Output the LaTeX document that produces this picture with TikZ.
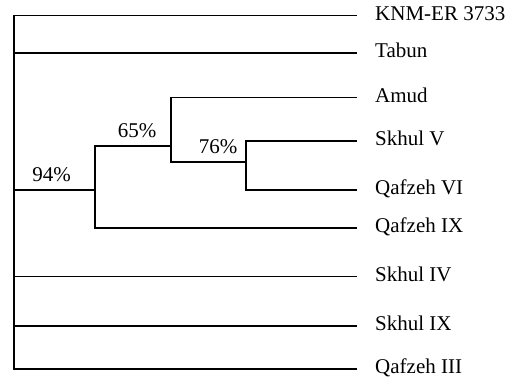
\documentclass[tikz,border=0pt]{standalone}
\usepackage{fontspec}
\setmainfont{Liberation Serif}
\usepackage{tikz}
\tikzset{taxon/.style={anchor=base west,inner sep=0pt,font=\fontsize{21}{25}\selectfont},
    support/.style={anchor=base,inner sep=0pt,font=\fontsize{21}{25}\selectfont},
    branch/.style={draw,line width=1.6pt}}

\begin{document}
\begin{tikzpicture}[x=1pt,y=-1pt]
    \useasboundingbox (0,0) rectangle (515,377);
    % tips and their labels
    \foreach \tip/\ty/\txt in {knm/15.7/KNM-ER 3733, tabun/53.3/Tabun,
        amud/97.7/Amud, skV/141/Skhul V, qVI/190/Qafzeh VI,
        qIX/228/Qafzeh IX, skIV/276.7/Skhul IV, skIX/326/Skhul IX,
        qIII/369/Qafzeh III}
    {
        \coordinate (\tip) at (357,\ty);
        \node[taxon] (\tip-lab) at (375,\ty+4.5) {\txt};
    }
    % inner nodes
    \coordinate (root) at (14,190);
    \coordinate (n94) at (95,190);
    \coordinate (n65) at (170.7,146);
    \coordinate (n76) at (245.7,162.3);
    % branches
    \path[branch] (root) |- (knm);
    \path[branch] (root) |- (tabun);
    \path[branch] (root) |- (skIV);
    \path[branch] (root) |- (skIX);
    \path[branch] (root) |- (qIII);
    \path[branch] (root) -- (n94);
    \path[branch] (n94) |- (n65);
    \path[branch] (n94) |- (qIX);
    \path[branch] (n65) |- (amud);
    \path[branch] (n65) |- (n76);
    \path[branch] (n76) |- (skV);
    \path[branch] (n76) |- (qVI);
    % support values
    \node[support] (s94) at (51.5,181.7) {94\%};
    \node[support] (s65) at (137,137.3) {65\%};
    \node[support] (s76) at (218,154) {76\%};
\end{tikzpicture}
\end{document}
